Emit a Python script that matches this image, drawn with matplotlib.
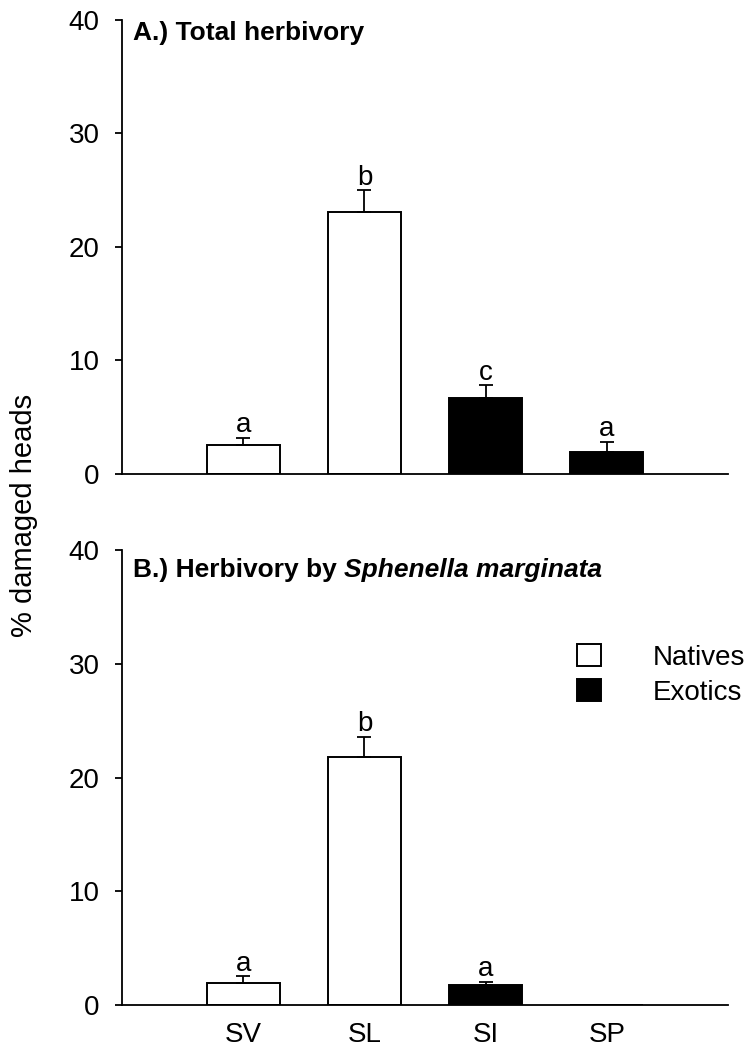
import matplotlib.pyplot as plt
import matplotlib.patches as mpatches

# --- data ---
species = ["SV", "SL", "SI", "SP"]
origin = ["native", "native", "exotic", "exotic"]

total_mean = [2.52, 23.1, 6.72, 1.96]
total_se = [0.68, 1.9, 1.08, 0.86]
total_letters = ["a", "b", "c", "a"]

spm_mean = [1.9, 21.8, 1.73, 0.0]
spm_se = [0.62, 1.8, 0.32, 0.0]
spm_letters = ["a", "b", "a", ""]

plt.rcParams["font.family"] = ["Liberation Sans", "DejaVu Sans"]

colors = ["white" if o == "native" else "black" for o in origin]
xpos = [1, 2, 3, 4]


def draw_panel(ax, means, ses, letters):
    ax.bar(xpos, means, width=0.6, color=colors, edgecolor="black",
           linewidth=1.4, zorder=2)
    for x, m, s, lab in zip(xpos, means, ses, letters):
        if s > 0:
            ax.errorbar(x, m, yerr=[[0], [s]], fmt="none", ecolor="black",
                        elinewidth=1.3, capsize=5, capthick=1.3, zorder=3)
        if lab:
            ax.annotate(lab, (x, m + s), xytext=(0, 4),
                        textcoords="offset points", ha="center",
                        va="baseline", fontsize=20)
    ax.set_xlim(0, 5)
    ax.set_ylim(0, 40)
    ax.set_yticks([0, 10, 20, 30, 40])
    ax.spines["top"].set_visible(False)
    ax.spines["right"].set_visible(False)
    ax.spines["left"].set_linewidth(1.3)
    ax.spines["bottom"].set_linewidth(1.3)
    ax.tick_params(axis="y", direction="out", length=5, width=1.3,
                   labelsize=20, pad=11)
    ax.tick_params(axis="x", length=0, labelsize=20, pad=12)


fig = plt.figure(figsize=(7.44, 10.47), dpi=100)
ax1 = fig.add_axes([0.164, 0.5473, 0.8145, 0.4336])
ax2 = fig.add_axes([0.164, 0.0401, 0.8145, 0.4346])

draw_panel(ax1, total_mean, total_se, total_letters)
ax1.set_xticks(xpos)
ax1.set_xticklabels([])
ax1.text(0.018, 0.956, "A.) Total herbivory", transform=ax1.transAxes,
         fontsize=19, fontweight="bold", ha="left", va="baseline")

draw_panel(ax2, spm_mean, spm_se, spm_letters)
ax2.set_xticks(xpos)
ax2.set_xticklabels(species)
t1 = ax2.text(0.018, 0.9407, "B.) Herbivory by ", transform=ax2.transAxes,
              fontsize=19, fontweight="bold", ha="left", va="baseline")
ax2.annotate("Sphenella marginata", xy=(1, 0), xycoords=t1,
             fontsize=19, fontweight="bold", fontstyle="italic",
             ha="left", va="bottom")

handles = [mpatches.Patch(facecolor="white", edgecolor="black", linewidth=1.4,
                          label="Natives"),
           mpatches.Patch(facecolor="black", edgecolor="black", linewidth=1.4,
                          label="Exotics")]
ax2.legend(handles=handles, loc="center left", bbox_to_anchor=(0.751, 0.725),
           frameon=False, fontsize=20, borderpad=0, borderaxespad=0,
           handlelength=0.86, handleheight=0.83, handletextpad=1.85,
           labelspacing=0.3)

fig.text(0.032, 0.508, "% damaged heads", rotation=90, ha="center",
         va="center", fontsize=21)

fig.savefig("out.png", dpi=100)
